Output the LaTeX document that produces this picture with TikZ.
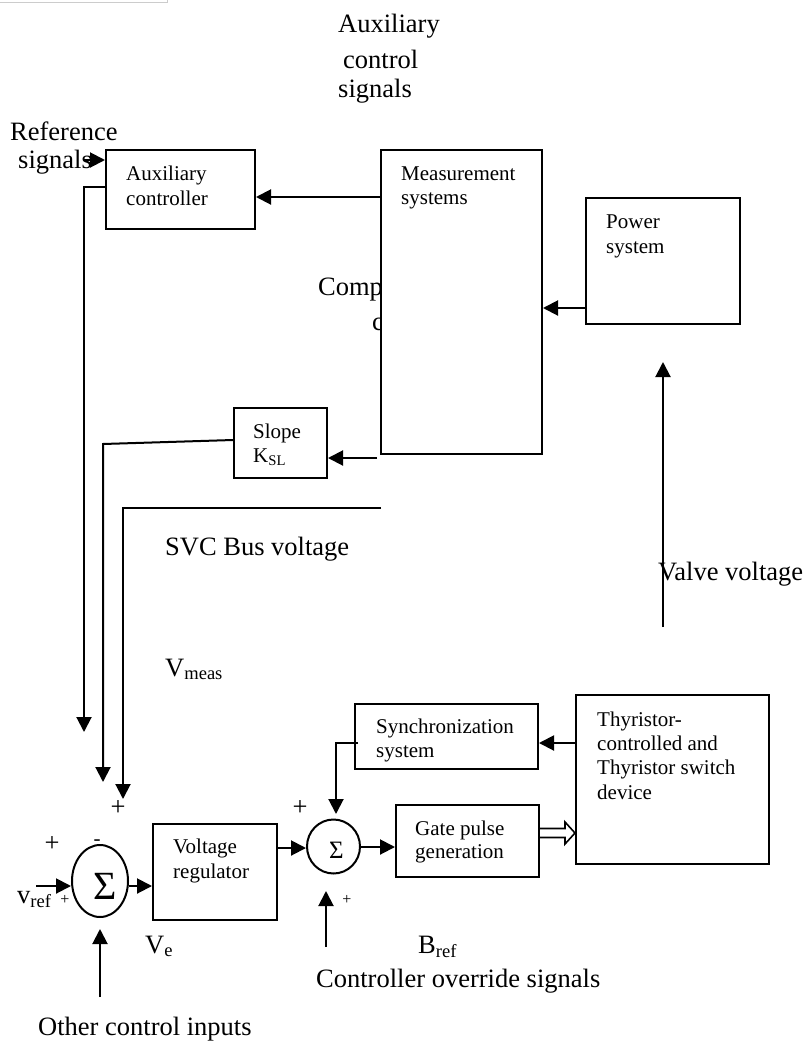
\documentclass[tikz,border=0pt]{standalone}
\usepackage{fontspec}
\setmainfont{Liberation Serif}
\usetikzlibrary{arrows.meta,shapes.geometric,calc}
\newcommand\fbig{\fontsize{26.5}{30}\selectfont}
\newcommand\fsmall{\fontsize{21}{24}\selectfont}
\newcommand\ftiny{\fontsize{16}{18}\selectfont}
\begin{document}
\begin{tikzpicture}[x=1pt,y=-1pt,
  box/.style={draw, line width=2pt, inner sep=0, anchor=north west},
  sumnode/.style={draw, ellipse, line width=2pt, inner sep=0},
  conn/.style={line width=2pt},
  arr/.style={conn, -{Triangle[length=15pt,width=15pt]}},
  big/.style={inner sep=0, anchor=base west, font=\fbig},
  small/.style={inner sep=0, anchor=base west, font=\fsmall},
  sign/.style={inner sep=0, anchor=center},
]
\useasboundingbox (0,0) rectangle (810,1042);
\draw[black!20, line width=1pt] (0,2.5) -- (167,2.5) -- (167,0);

% top labels
\node[big] (t1) at (338,32) {Auxiliary};
\node[big] (t2) at (343,68) {control};
\node[big] (t3) at (338,97) {signals};
\node[big] (r1) at (10,140) {Reference};
\node[big] (r2) at (18,168) {signals};

% partially hidden label
\node[big] (cp1) at (318,295) {Comp};
\node[big] (cp2) at (372,330) {c};

% boxes
\node[box, minimum width=149pt, minimum height=79pt] (auxc) at (105,149) {};
\node[box, fill=white, minimum width=161pt, minimum height=304pt] (meas) at (380,149) {};
\node[box, minimum width=154pt, minimum height=126pt] (power) at (585,197) {};
\node[box, minimum width=93pt, minimum height=70pt] (slope) at (233,407) {};
\node[box, minimum width=124pt, minimum height=96pt] (vreg) at (152,823) {};
\node[box, minimum width=143pt, minimum height=72pt] (gate) at (395,804) {};
\node[box, minimum width=183pt, minimum height=65pt] (sync) at (354,703) {};
\node[box, minimum width=193pt, minimum height=169pt] (thy) at (575,694) {};
\node[sumnode, minimum width=56pt, minimum height=72pt] (sum1) at (100,881) {};
\node[sumnode, minimum width=53pt, minimum height=54pt] (sum2) at (333.5,846.5) {};

% box texts
\node[small] (la1) at (126,180) {Auxiliary};
\node[small] (la2) at (126,205) {controller};
\node[small] (lm1) at (401,180) {Measurement};
\node[small] (lm2) at (401,204) {systems};
\node[small] (lp1) at (606,228) {Power};
\node[small] (lp2) at (606,253) {system};
\node[small] (ls1) at (253,438) {Slope};
\node[small] (ls2) at (253,462) {K\textsubscript{SL}};
\node[small] (lv1) at (173,853) {Voltage};
\node[small] (lv2) at (173,878) {regulator};
\node[small] (lg1) at (415,835) {Gate pulse};
\node[small] (lg2) at (415,858) {generation};
\node[small] (ly1) at (376,733) {Synchronization};
\node[small] (ly2) at (376,757) {system};
\node[small] (lt1) at (597,726) {Thyristor-};
\node[small] (lt2) at (597,750) {controlled and};
\node[small] (lt3) at (597,774) {Thyristor switch};
\node[small] (lt4) at (597,799) {device};
\node[sign, font=\fontsize{40}{40}\selectfont] (sg1) at (105.5,886) {Σ};
\node[sign, font=\fontsize{25}{25}\selectfont] (sg2) at (336.5,850.5) {Σ};

% other labels
\node[big] (svc) at (165,555) {SVC Bus voltage};
\node[big] (valve) at (658,580) {Valve voltage};
\node[big] (vmeas) at (165,676) {V\textsubscript{meas}};
\node[big] (ve) at (145,953) {V\textsubscript{e}};
\node[big] (bref) at (418,953) {B\textsubscript{ref}};
\node[big] (vref) at (17,903) {v\textsubscript{ref}};
\node[big] (over) at (316,987) {Controller override signals};
\node[big] (other) at (38,1035) {Other control inputs};

% signs
\node[sign, font=\fbig] (p1) at (118,808) {+};
\node[sign, font=\fbig] (p2) at (300,808) {+};
\node[sign, font=\fbig] (p3) at (52,844) {+};
\node[sign, font=\fsmall] (m1) at (97,843) {-};
\node[sign, font=\ftiny] (p4) at (65,900) {+};
\node[sign, font=\ftiny] (p5) at (347,900) {+};

% free connector ends
\coordinate (refin) at (84,160);
\coordinate (auxdown) at (84,732);
\coordinate (slopedown) at (103,782);
\coordinate (measout) at (377,458);
\coordinate (busin) at (381,508);
\coordinate (busdown) at (123,799);
\coordinate (valvefrom) at (663,627);
\coordinate (valveto) at (663,362);
\coordinate (vrefin) at (36,886);
\coordinate (otherin) at (100,997);
\coordinate (otherto) at (100,929);
\coordinate (synctap) at (358,743);
\coordinate (syncdown) at (336,814);
\coordinate (ovin) at (326,947);
\coordinate (ovto) at (326,891);

% connectors
\draw[arr] (meas.west |- 0,197) -- (auxc.east |- 0,197);
\draw[arr] (refin) -- (auxc.west |- 0,160);
\draw[arr] (auxc.west |- 0,187) -- (84,187) -- (auxdown);
\draw[arr] (slope.west |- 0,440) -- (103,444) -- (slopedown);
\draw[arr] (measout) -- (slope.east |- 0,458);
\draw[arr] (busin) -- (123,508) -- (busdown);
\draw[arr] (power.west |- 0,308) -- (meas.east |- 0,308);
\draw[arr] (valvefrom) -- (valveto);
\draw[arr] (vrefin) -- (sum1.west |- 0,886);
\draw[arr] (sum1.east |- 0,886) -- (vreg.west |- 0,886);
\draw[arr] (otherin) -- (otherto);
\draw[arr] (vreg.east |- 0,848) -- (sum2.west |- 0,848);
\draw[arr] (sum2.east |- 0,847) -- (gate.west |- 0,847);
\draw[arr] (thy.west |- 0,743) -- (sync.east |- 0,743);
\draw[arr] (synctap) -- (336,743) -- (syncdown);
\draw[arr] (ovin) -- (ovto);
\draw[line width=1.6pt, fill=white] (gate.east |- 0,828.5) -- (565,828.5) -- (565,822)
  -- (thy.west |- 0,833) -- (565,844) -- (565,837.5) -- (gate.east |- 0,837.5);
\end{tikzpicture}
\end{document}
